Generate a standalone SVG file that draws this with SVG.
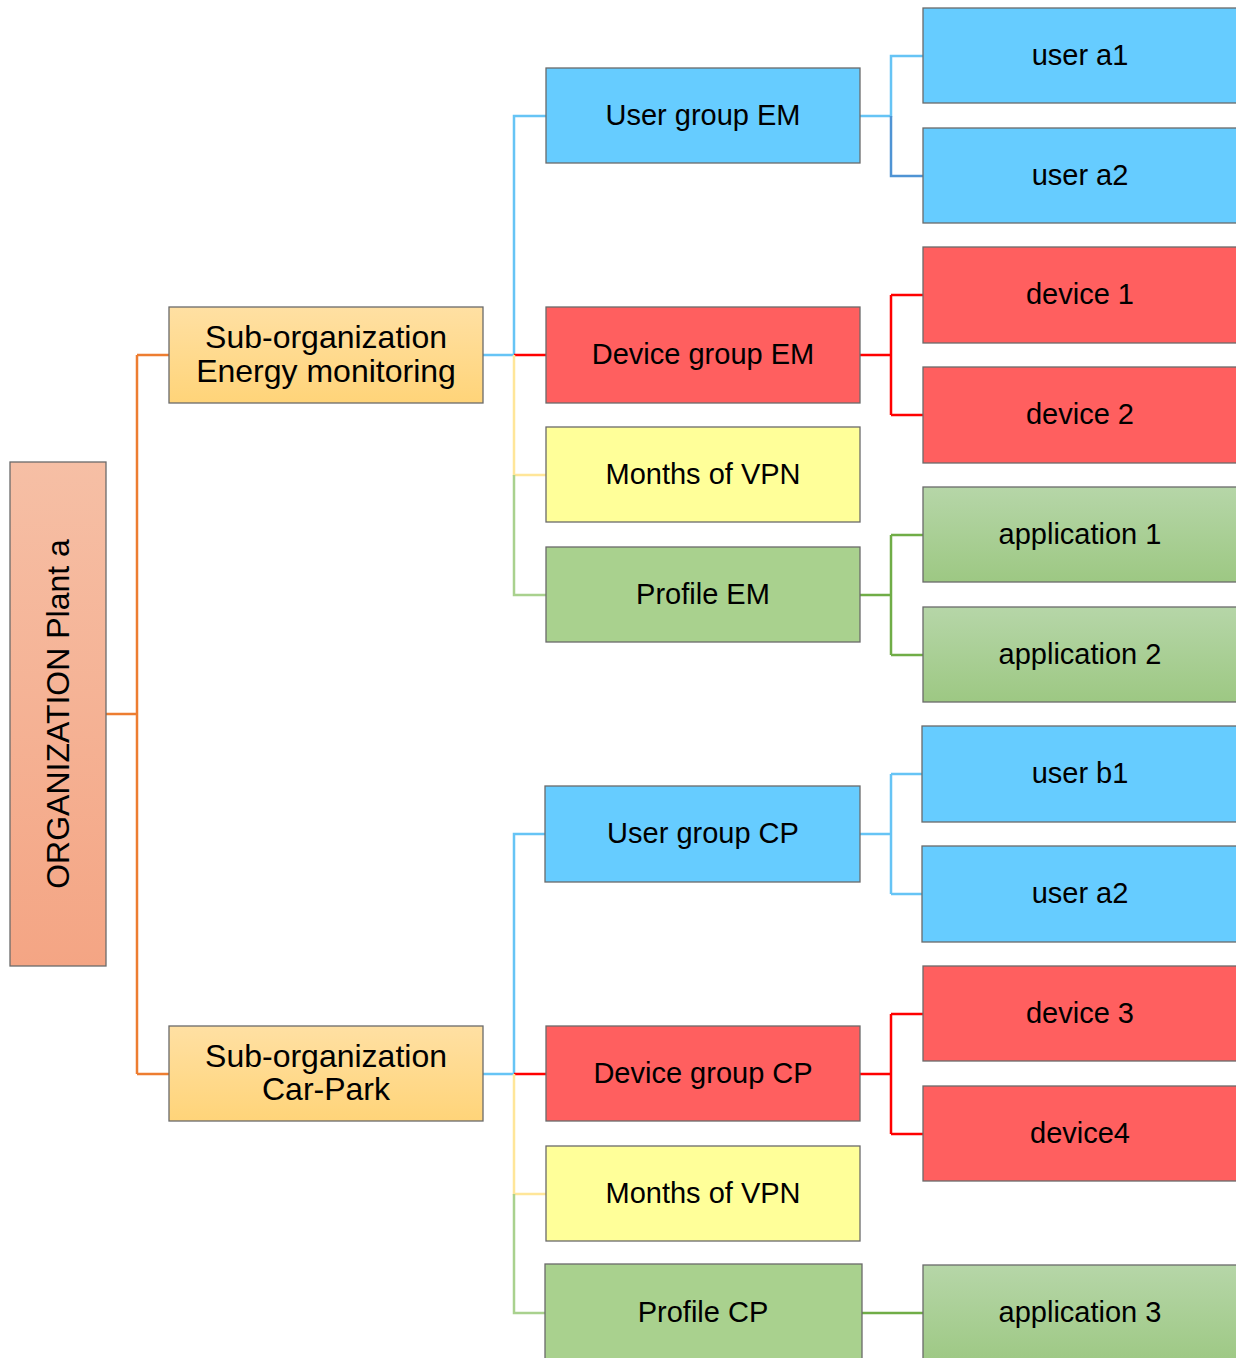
<svg xmlns="http://www.w3.org/2000/svg" width="1236" height="1358" viewBox="0 0 1236 1358">
<defs>
<linearGradient id="gRoot" x1="0" y1="0" x2="0" y2="1"><stop offset="0" stop-color="#F6BFA5"/><stop offset="1" stop-color="#F4A584"/></linearGradient>
<linearGradient id="gSub" x1="0" y1="0" x2="0" y2="1"><stop offset="0" stop-color="#FFE0A3"/><stop offset="1" stop-color="#FFD479"/></linearGradient>
<linearGradient id="gApp" x1="0" y1="0" x2="0" y2="1"><stop offset="0" stop-color="#B6D6A8"/><stop offset="1" stop-color="#9DC883"/></linearGradient>
<style>
rect{stroke:#6A6A6A;stroke-width:1.3}
.root{fill:url(#gRoot)}
.sub{fill:url(#gSub)}
.blue{fill:#66CCFF}
.red{fill:#FF5F5F}
.yel{fill:#FFFF99}
.grn{fill:#A9D18E}
.app{fill:url(#gApp)}
text{font-family:"Liberation Sans",Arial,sans-serif;fill:#000;text-anchor:middle}
.t29{font-size:29px}
.t31{font-size:32px}
#connectors path{fill:none;stroke-width:2.5}
.co{stroke:#ED7D31}
.cb{stroke:#66C4F5}
.cbd{stroke:#4F94D4}
.cr{stroke:#FF0000}
.cy{stroke:#FFE699}
.cg{stroke:#A9D18E}
.cgd{stroke:#70AD47}
</style>
</defs>
<rect width="1236" height="1358" fill="#FFFFFF" style="stroke:none"/>
<g id="connectors">
<path class="co" d="M106,714H137M137,355V1074M137,355H169M137,1074H169"/>
<path class="cb" d="M483,355H514V116H546"/>
<path class="cr" d="M514,355H546"/>
<path class="cy" d="M514,355V475H546"/>
<path class="cg" d="M514,475V595H546"/>
<path class="cb" d="M860,116H891V56H923"/>
<path class="cbd" d="M891,116V176H923"/>
<path class="cr" d="M860,355H891M891,295V415M891,295H923M891,415H923"/>
<path class="cgd" d="M860,595H891M891,535V655M891,535H923M891,655H923"/>
<path class="cb" d="M483,1074H514V834H545"/>
<path class="cr" d="M514,1074H546"/>
<path class="cy" d="M514,1074V1194H546"/>
<path class="cg" d="M514,1194V1313H545"/>
<path class="cb" d="M860,834H891M891,774V894M891,774H922M891,894H922"/>
<path class="cr" d="M860,1074H891M891,1014V1134M891,1014H923M891,1134H923"/>
<path class="cgd" d="M862,1313H923"/>
</g>
<g id="root"><rect class="root" x="10" y="462" width="96" height="504"/><text class="t31" x="69" y="714" transform="rotate(-90 69 714)">ORGANIZATION Plant a</text></g>
<g id="sub-em"><rect class="sub" x="169" y="307" width="314" height="96"/><text class="t31" x="326" y="348">Sub-organization</text><text class="t31" x="326" y="382">Energy monitoring</text></g>
<g id="sub-cp"><rect class="sub" x="169" y="1026" width="314" height="95"/><text class="t31" x="326" y="1067">Sub-organization</text><text class="t31" x="326" y="1100">Car-Park</text></g>
<g id="ug-em"><rect class="blue" x="546" y="68" width="314" height="95"/><text class="t29" x="703" y="125">User group EM</text></g>
<g id="dg-em"><rect class="red" x="546" y="307" width="314" height="96"/><text class="t29" x="703" y="364">Device group EM</text></g>
<g id="vpn-em"><rect class="yel" x="546" y="427" width="314" height="95"/><text class="t29" x="703" y="484">Months of VPN</text></g>
<g id="prof-em"><rect class="grn" x="546" y="547" width="314" height="95"/><text class="t29" x="703" y="604">Profile EM</text></g>
<g id="ug-cp"><rect class="blue" x="545" y="786" width="315" height="96"/><text class="t29" x="703" y="843">User group CP</text></g>
<g id="dg-cp"><rect class="red" x="546" y="1026" width="314" height="95"/><text class="t29" x="703" y="1083">Device group CP</text></g>
<g id="vpn-cp"><rect class="yel" x="546" y="1146" width="314" height="95"/><text class="t29" x="703" y="1203">Months of VPN</text></g>
<g id="prof-cp"><rect class="grn" x="545" y="1264" width="317" height="100"/><text class="t29" x="703" y="1322">Profile CP</text></g>
<g id="user-a1"><rect class="blue" x="923" y="8" width="320" height="95"/><text class="t29" x="1080" y="65">user a1</text></g>
<g id="user-a2"><rect class="blue" x="923" y="128" width="320" height="95"/><text class="t29" x="1080" y="185">user a2</text></g>
<g id="device-1"><rect class="red" x="923" y="247" width="320" height="96"/><text class="t29" x="1080" y="304">device 1</text></g>
<g id="device-2"><rect class="red" x="923" y="367" width="320" height="96"/><text class="t29" x="1080" y="424">device 2</text></g>
<g id="app-1"><rect class="app" x="923" y="487" width="320" height="95"/><text class="t29" x="1080" y="544">application 1</text></g>
<g id="app-2"><rect class="app" x="923" y="607" width="320" height="95"/><text class="t29" x="1080" y="664">application 2</text></g>
<g id="user-b1"><rect class="blue" x="922" y="726" width="320" height="96"/><text class="t29" x="1080" y="783">user b1</text></g>
<g id="user-a2-cp"><rect class="blue" x="922" y="846" width="320" height="96"/><text class="t29" x="1080" y="903">user a2</text></g>
<g id="device-3"><rect class="red" x="923" y="966" width="320" height="95"/><text class="t29" x="1080" y="1023">device 3</text></g>
<g id="device-4"><rect class="red" x="923" y="1086" width="320" height="95"/><text class="t29" x="1080" y="1143">device4</text></g>
<g id="app-3"><rect class="app" x="923" y="1265" width="320" height="100"/><text class="t29" x="1080" y="1322">application 3</text></g>
</svg>
